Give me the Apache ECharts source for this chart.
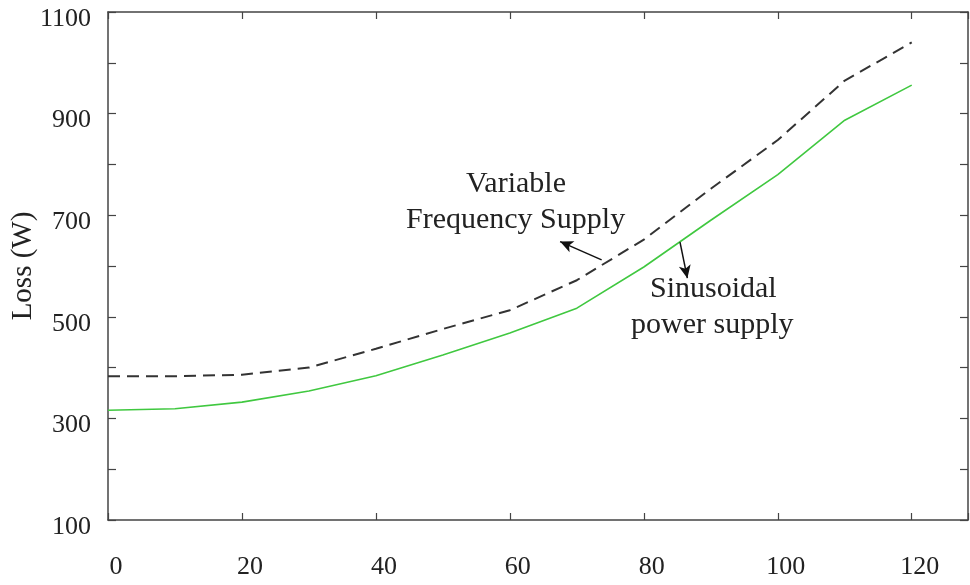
<!DOCTYPE html>
<html>
<head>
<meta charset="utf-8">
<script src="https://cdn.jsdelivr.net/npm/echarts@6/dist/echarts.min.js"></script>
<style>html,body{margin:0;padding:0;background:#fff}#c{width:970px;height:585px}</style>
</head>
<body>
<div id="c"></div>
<script>
// x values
var xValues = [0, 10, 20, 30, 40, 50, 60, 70, 80, 90, 100, 110, 120];
// Sinusoidal power supply loss (W)
var sinusoidal = [316, 319, 332, 354, 384, 425, 468, 517, 598, 690, 780, 887, 956];
// Variable frequency supply loss (W)
var variableFreq = [383, 383, 386, 400, 437, 476, 513, 572, 652, 752, 848, 965, 1040];
var xTickLabels = [0, 20, 40, 60, 80, 100, 120];
var yTickLabels = [100, 300, 500, 700, 900, 1100];

var FONT = 'Liberation Serif';
var axisColor = '#444';
var textColor = '#222';

function pairs(xs, ys) { return xs.map(function (x, i) { return [x, ys[i]]; }); }

var chart = echarts.init(document.getElementById('c'), null, {renderer: 'canvas'});
var xMax = 128.4;
var axisLineStyle = {show: true, onZero: false, lineStyle: {color: axisColor, width: 1.5}};
var option = {
  animation: false,
  backgroundColor: '#fff',
  grid: {left: 108, top: 12, right: 2, bottom: 65, show: false, containLabel: false, outerBoundsMode: 'none'},
  xAxis: [{
    type: 'value', min: 0, max: xMax, interval: 20, position: 'bottom',
    axisLine: axisLineStyle,
    axisTick: {show: true, inside: true, length: 7, lineStyle: {color: axisColor, width: 1.2}},
    splitLine: {show: false},
    axisLabel: {
      margin: 34, fontFamily: FONT, fontSize: 26, color: textColor, padding: [0, 0, 0, 16],
      formatter: function (v) { return xTickLabels.indexOf(v) >= 0 ? String(v) : ''; }
    }
  }, {
    type: 'value', min: 0, max: xMax, interval: 20, position: 'top',
    axisLine: axisLineStyle,
    axisTick: {show: true, inside: true, length: 7, lineStyle: {color: axisColor, width: 1.2}},
    splitLine: {show: false}, axisLabel: {show: false}
  }],
  yAxis: [{
    type: 'value', min: 100, max: 1100, interval: 100, position: 'left',
    name: 'Loss (W)', nameLocation: 'middle', nameGap: 70, nameRotate: 90, nameMoveOverlap: false,
    nameTextStyle: {fontFamily: FONT, fontSize: 29, color: textColor},
    axisLine: axisLineStyle,
    axisTick: {show: true, inside: true, length: 8, lineStyle: {color: axisColor, width: 1.2}},
    splitLine: {show: false},
    axisLabel: {
      margin: 17, fontFamily: FONT, fontSize: 26, color: textColor,
      verticalAlign: 'top', lineHeight: 14,
      formatter: function (v) { return yTickLabels.indexOf(v) >= 0 ? String(v) : ''; }
    }
  }, {
    type: 'value', min: 100, max: 1100, interval: 100, position: 'right',
    axisLine: axisLineStyle,
    axisTick: {show: true, inside: true, length: 8, lineStyle: {color: axisColor, width: 1.2}},
    splitLine: {show: false}, axisLabel: {show: false}
  }],
  series: [{
    name: 'Variable Frequency Supply', type: 'line', xAxisIndex: 0, yAxisIndex: 0,
    data: pairs(xValues, variableFreq), showSymbol: false, smooth: false,
    lineStyle: {color: '#333', width: 2, type: [12, 7]},
    markLine: {
      silent: true, symbol: ['none', 'arrow'], symbolSize: [9, 13],
      label: {show: false},
      lineStyle: {color: '#111', width: 1.5, type: 'solid'},
      data: [[{coord: [73.7, 612]}, {coord: [67.5, 648]}]]
    }
  }, {
    name: 'Sinusoidal power supply', type: 'line', xAxisIndex: 0, yAxisIndex: 0,
    data: pairs(xValues, sinusoidal), showSymbol: false, smooth: false,
    lineStyle: {color: '#40c840', width: 1.6, type: 'solid'},
    markLine: {
      silent: true, symbol: ['none', 'arrow'], symbolSize: [9, 13],
      label: {show: false},
      lineStyle: {color: '#111', width: 1.5, type: 'solid'},
      data: [[{coord: [85.4, 647]}, {coord: [86.5, 576]}]]
    }
  }],
  graphic: [
    {type: 'text', left: 466, top: 169, style: {text: 'Variable', font: '30px "Liberation Serif"', fill: textColor}},
    {type: 'text', left: 406, top: 205, style: {text: 'Frequency Supply', font: '30px "Liberation Serif"', fill: textColor}},
    {type: 'text', left: 650, top: 274, style: {text: 'Sinusoidal', font: '30px "Liberation Serif"', fill: textColor}},
    {type: 'text', left: 631, top: 310, style: {text: 'power supply', font: '30px "Liberation Serif"', fill: textColor}}
  ]
};
chart.setOption(option);
</script>
</body>
</html>
